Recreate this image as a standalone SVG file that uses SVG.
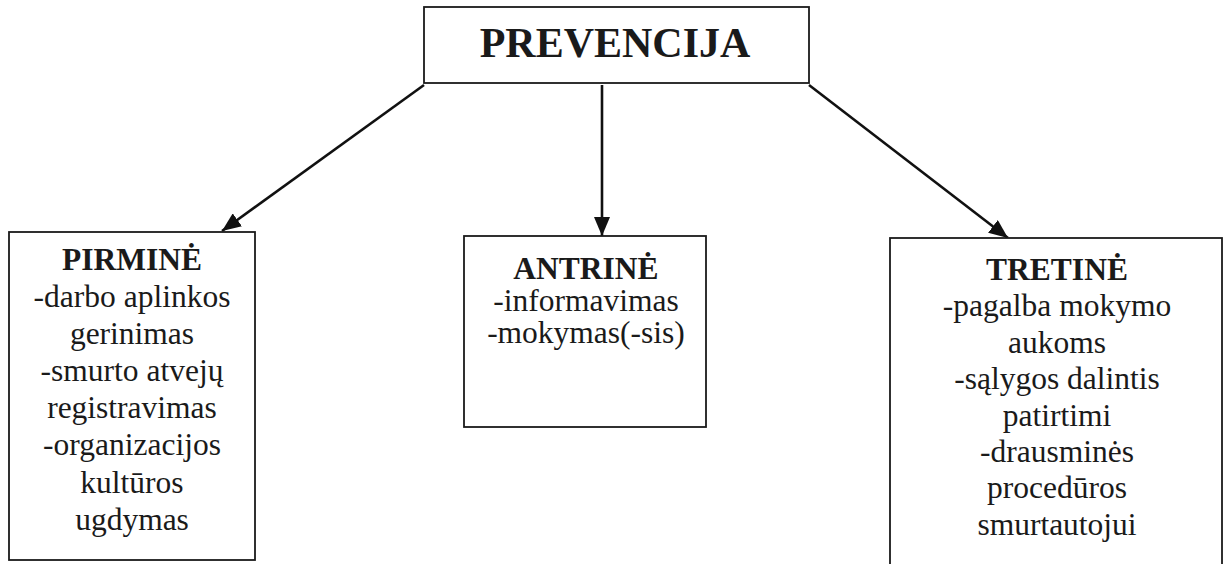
<svg xmlns="http://www.w3.org/2000/svg" width="1224" height="564" viewBox="0 0 1224 564">
  <style>
    .box { fill: #ffffff; stroke: #1a1a1a; stroke-width: 1.8; }
    .conn { stroke: #111111; stroke-width: 2.6; fill: none; }
    .t { font-family: "Liberation Serif", "Times New Roman", serif; font-size: 31.5px; fill: #1a1a1a; text-anchor: middle; }
    .h { font-weight: bold; }
    .title { font-family: "Liberation Serif", "Times New Roman", serif; font-size: 42px; font-weight: bold; fill: #1a1a1a; text-anchor: middle; }
  </style>
  <defs>
    <marker id="arr" markerUnits="userSpaceOnUse" markerWidth="20" markerHeight="16" refX="19" refY="8" orient="auto">
      <path d="M0,0 L19,8 L0,16 z" fill="#111111"/>
    </marker>
  </defs>
  <rect width="1224" height="564" fill="#ffffff"/>

  <g id="connectors">
    <line class="conn" x1="424" y1="85" x2="222" y2="231" marker-end="url(#arr)"/>
    <line class="conn" x1="602" y1="85" x2="602" y2="236" marker-end="url(#arr)"/>
    <line class="conn" x1="809" y1="85" x2="1008" y2="238" marker-end="url(#arr)"/>
  </g>

  <g id="prevencija">
    <rect class="box" x="424" y="7" width="385" height="76"/>
    <text class="title" x="615" y="57">PREVENCIJA</text>
  </g>

  <g id="pirmine">
    <rect class="box" x="9" y="232" width="246" height="328"/>
    <text class="t h" x="132" y="270">PIRMINĖ</text>
    <text class="t" x="132" y="307">-darbo aplinkos</text>
    <text class="t" x="132" y="344">gerinimas</text>
    <text class="t" x="132" y="381">-smurto atvejų</text>
    <text class="t" x="132" y="418">registravimas</text>
    <text class="t" x="132" y="455">-organizacijos</text>
    <text class="t" x="132" y="493">kultūros</text>
    <text class="t" x="132" y="530">ugdymas</text>
  </g>

  <g id="antrine">
    <rect class="box" x="464" y="236" width="242" height="191"/>
    <text class="t h" x="586" y="279">ANTRINĖ</text>
    <text class="t" x="586" y="311">-informavimas</text>
    <text class="t" x="586" y="343">-mokymas(-sis)</text>
  </g>

  <g id="tretine">
    <rect class="box" x="890" y="238" width="332" height="340"/>
    <text class="t h" x="1057" y="280">TRETINĖ</text>
    <text class="t" x="1057" y="316">-pagalba mokymo</text>
    <text class="t" x="1057" y="353">aukoms</text>
    <text class="t" x="1057" y="389">-sąlygos dalintis</text>
    <text class="t" x="1057" y="426">patirtimi</text>
    <text class="t" x="1057" y="462">-drausminės</text>
    <text class="t" x="1057" y="498">procedūros</text>
    <text class="t" x="1057" y="535">smurtautojui</text>
  </g>
</svg>
